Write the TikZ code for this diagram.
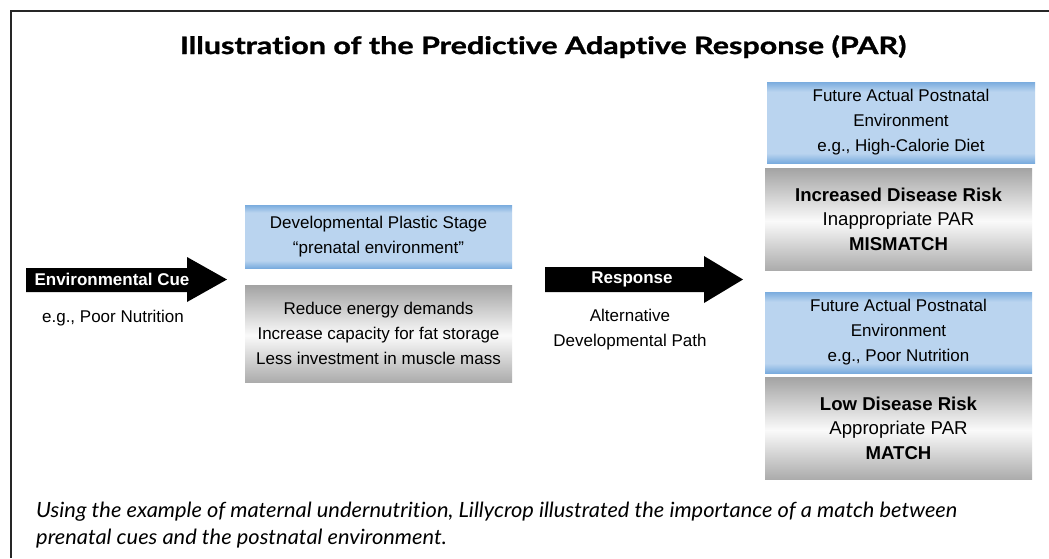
\documentclass[tikz,border=0pt]{standalone}
\usepackage{fontspec}
\setmainfont{Liberation Sans}
\newfontfamily\gillfont[Ligatures=NoCommon]{Lato}
\newfontfamily\gilltitle[Ligatures=NoCommon, FakeStretch=1.27, FakeBold=1.2]{Lato}
\newfontfamily\gillcap[Ligatures=NoCommon, FakeStretch=1.04]{Lato}
\definecolor{bluedark}{RGB}{122,172,222}
\definecolor{bluelight}{RGB}{186,212,239}
\definecolor{graytop}{RGB}{163,163,163}
\definecolor{graybot}{RGB}{172,172,172}
\definecolor{graymid}{RGB}{250,250,250}
\pgfdeclareverticalshading{blueband}{100bp}{color(0bp)=(bluedark); color(25bp)=(bluedark); color(31bp)=(bluelight); color(69bp)=(bluelight); color(75bp)=(bluedark); color(100bp)=(bluedark)}
\pgfdeclareverticalshading{grayband}{100bp}{color(0bp)=(graybot); color(25bp)=(graybot); color(49bp)=(graymid); color(75bp)=(graytop); color(100bp)=(graytop)}
\tikzset{
  box/.style={inner sep=0pt, align=center, minimum width=267pt, font=\fontsize{17}{25}\selectfont},
  bluebox/.style={box, shading=blueband},
  graybox/.style={box, shading=grayband},
  bigtext/.style={font=\fontsize{18.6}{24.5}\selectfont},
  arrowlabel/.style={text=white, font=\bfseries\fontsize{17}{25}\selectfont},
  plain/.style={align=center, font=\fontsize{17}{25}\selectfont},
  caption/.style={anchor=base west, inner sep=0pt, font=\gillcap\itshape\fontsize{21}{28}\selectfont},
}
\begin{document}
\begin{tikzpicture}[x=1pt,y=-1pt]
\useasboundingbox (0,0) rectangle (1049,558);
\fill[white] (0,0) rectangle (1049,558);
\draw[line width=1.5pt, black!85] (11,558) -- (11,11) -- (1049,11);
\node[anchor=base, inner sep=0pt, font=\gilltitle\bfseries\fontsize{24}{30}\selectfont] (title) at (543,54) {Illustration of the Predictive Adaptive Response (PAR)};
% arrow 1
\fill[black] (26,268) -- (187,268) -- (187,257) -- (227,279.5) -- (187,302) -- (187,292) -- (26,292) -- cycle;
\node[arrowlabel] (cue) at (112,279) {Environmental Cue};
\node[plain] (cueex) at (113,318) {e.g., Poor Nutrition};
% middle boxes
\node[bluebox, minimum height=63pt] (dps) at (378.5,236.5) {Developmental Plastic Stage\\“prenatal environment”};
\node[graybox, minimum height=97pt] (red) at (378.5,333.5) {Reduce energy demands\\Increase capacity for fat storage\\Less investment in muscle mass};
% arrow 2
\fill[black] (545,267) -- (704,267) -- (704,256) -- (743,279.5) -- (704,303) -- (704,292) -- (545,292) -- cycle;
\node[arrowlabel] (resp) at (632,279) {Response};
\node[plain] (alt) at (630,330) {Alternative\\Developmental Path};
% right boxes
\node[bluebox, minimum width=268pt, minimum height=81pt] (fut1) at (901,122.5) {Future Actual Postnatal\\Environment\\e.g., High-Calorie Diet};
\node[graybox, bigtext, minimum height=102pt] (risk1) at (898.5,219) {\textbf{Increased Disease Risk}\\Inappropriate PAR\\\textbf{MISMATCH}};
\node[bluebox, minimum height=81pt] (fut2) at (898.5,332.5) {Future Actual Postnatal\\Environment\\e.g., Poor Nutrition};
\node[graybox, bigtext, minimum height=102pt] (risk2) at (898.5,428) {\textbf{Low Disease Risk}\\Appropriate PAR\\\textbf{MATCH}};
% caption
\node[caption] (cap1) at (36,517) {Using the example of maternal undernutrition, Lillycrop illustrated the importance of a match between};
\node[caption] (cap2) at (36,544) {prenatal cues and the postnatal environment.};
\end{tikzpicture}
\end{document}
